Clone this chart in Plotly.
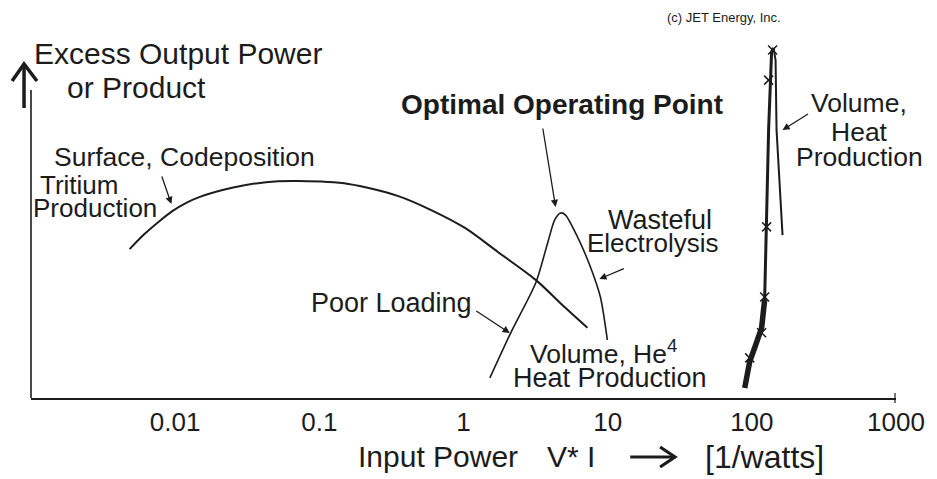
import plotly.graph_objects as go

# ---------------- data ----------------
surface_x = [0.00483, 0.006124, 0.00777, 0.00956, 0.01194, 0.01468, 0.02482, 0.04261,
             0.0720, 0.1594, 0.3530, 0.5966, 1.024, 1.731, 3.168, 5.023, 7.239]
surface_y = [41.6, 45.8, 49.4, 52.2, 54.5, 56.1, 58.7, 60.3,
             60.6, 59.8, 56.4, 52.5, 47.5, 40.8, 33.0, 25.4, 19.6]

peak_x = [1.524, 2.128, 3.168, 3.833, 4.284, 4.713, 5.103, 6.176, 7.595, 8.904, 9.95]
peak_y = [5.6, 18.2, 32.1, 43.3, 49.7, 51.7, 51.1, 45.0, 36.6, 28.2, 16.2]

spike_low_x = [89.27, 96.6, 106.3, 116.9, 122.7]
spike_low_y = [2.8, 10.1, 14.8, 19.6, 27.4]
spike_up_x = [122.7, 126.6, 130.7, 137.1, 141.5]
spike_up_y = [27.4, 48.9, 74.9, 96.6, 97.8]
spike_back_x = [141.5, 146.1, 148.4, 155.7, 163.3]
spike_back_y = [97.8, 94.4, 74.9, 60.9, 45.5]

mark_x = [139.3, 130.7, 126.6, 122.7, 116.9, 96.6]
mark_y = [97.2, 88.8, 47.8, 28.2, 18.2, 11.2]

tick_vals = [0.01, 0.1, 1, 10, 100, 1000]
tick_text = ["0.01", "0.1", "1", "10", "100", "1000"]

# ---------------- layout helpers ----------------
W, H = 937, 479
L, R, T, B = 31, 900, 40, 398
INK = "#1c1c1c"
FONT = "Liberation Sans, Arial, sans-serif"


def P(px, py):
    return (px - L) / (R - L), (B - py) / (B - T)


fig = go.Figure()
fig.add_trace(go.Scatter(x=surface_x, y=surface_y, mode="lines",
                         line=dict(color=INK, width=2, shape="spline", smoothing=0.8),
                         hoverinfo="skip", showlegend=False))
fig.add_trace(go.Scatter(x=peak_x, y=peak_y, mode="lines",
                         line=dict(color=INK, width=1.6, shape="spline", smoothing=0.7),
                         hoverinfo="skip", showlegend=False))
fig.add_trace(go.Scatter(x=spike_low_x, y=spike_low_y, mode="lines",
                         line=dict(color=INK, width=5.5),
                         hoverinfo="skip", showlegend=False))
fig.add_trace(go.Scatter(x=spike_up_x, y=spike_up_y, mode="lines",
                         line=dict(color=INK, width=3),
                         hoverinfo="skip", showlegend=False))
fig.add_trace(go.Scatter(x=spike_back_x, y=spike_back_y, mode="lines",
                         line=dict(color=INK, width=2),
                         hoverinfo="skip", showlegend=False))
fig.add_trace(go.Scatter(x=mark_x, y=mark_y, mode="markers",
                         marker=dict(symbol="x-thin-open", size=9, color=INK,
                                     line=dict(color=INK, width=1.5)),
                         hoverinfo="skip", showlegend=False))

annotations = []


def text(px, py, s, size=26, anchor="left", font=FONT):
    x, y = P(px, py)
    annotations.append(dict(x=x, y=y, xref="paper", yref="paper", text=s,
                            showarrow=False, xanchor=anchor, yanchor="middle",
                            font=dict(family=font, size=size, color=INK),
                            borderpad=0))


def arrow(hx, hy, tx, ty):
    x, y = P(hx, hy)
    annotations.append(dict(x=x, y=y, xref="paper", yref="paper", text="",
                            showarrow=True, ax=tx - hx, ay=ty - hy,
                            arrowhead=2, arrowsize=1.1, arrowwidth=1.3,
                            arrowcolor=INK))


text(727, 17, "(c) JET Energy, Inc.", size=13, anchor="center")
text(33, 53, "Excess Output Power", size=30)
text(66, 88, "or Product", size=30)
text(53, 157, "Surface, Codeposition", size=26.5)
text(39, 185, "Tritium", size=26)
text(32, 208, "Production", size=26)
text(402, 105, "<b>Optimal Operating Point</b>", size=28)
text(610, 220, "Wasteful", size=27)
text(589, 243, "Electrolysis", size=26)
text(311, 303, "Poor Loading", size=27)
text(531, 352, "Volume, He<sup>4</sup>", size=26.5)
text(514, 378, "Heat Production", size=27)
text(863, 103, "Volume,", size=26.5, anchor="center")
text(863, 132, "Heat", size=26.5, anchor="center")
text(863, 157, "Production", size=26.5, anchor="center")
text(440, 457, "Input Power", size=30, anchor="center")
text(573, 457, "V* I", size=30, anchor="center")
text(768, 457, "[1/watts]", size=32, anchor="center")

arrow(172, 204, 162, 175)
arrow(558, 207, 545, 127)
arrow(512, 333, 477, 310)
arrow(602, 279, 628, 268)
arrow(786, 130, 813, 113)

shapes = []


def seg(p, q, w):
    x0, y0 = P(*p)
    x1, y1 = P(*q)
    shapes.append(dict(type="line", xref="paper", yref="paper", x0=x0, y0=y0, x1=x1, y1=y1,
                       line=dict(color=INK, width=w)))


def chevron(a, b, c, w):
    (ax_, ay_), (bx_, by_), (cx_, cy_) = P(*a), P(*b), P(*c)
    shapes.append(dict(type="path", xref="paper", yref="paper",
                       path=f"M {ax_},{ay_} L {bx_},{by_} L {cx_},{cy_}",
                       line=dict(color=INK, width=w)))


# y axis line
seg((31, 398), (31, 90), 1.6)
# up arrow beside the y-axis title
seg((24, 108), (24, 65), 3.5)
chevron((12, 81), (24, 64), (37, 81), 3.5)
# end tick of the x axis
seg((899, 393), (899, 403), 1.2)
# right arrow in the x-axis title
seg((633, 457), (676, 457), 3.2)
chevron((663, 447), (678, 457), (663, 467), 3.2)

fig.update_layout(
    width=W, height=H,
    margin=dict(l=L, r=W - R, t=T, b=H - B),
    paper_bgcolor="white", plot_bgcolor="white",
    annotations=annotations, shapes=shapes,
    xaxis=dict(type="log", range=[-3, 3], showgrid=False, zeroline=False,
               tickvals=tick_vals, ticktext=tick_text, ticks="",
               tickfont=dict(family=FONT, size=26, color=INK),
               showline=True, linecolor=INK, linewidth=2),
    yaxis=dict(range=[0, 100], visible=False, showgrid=False),
)

fig.write_html("out.html", config={"displayModeBar": False},
               post_script="document.body.style.margin='0';")
